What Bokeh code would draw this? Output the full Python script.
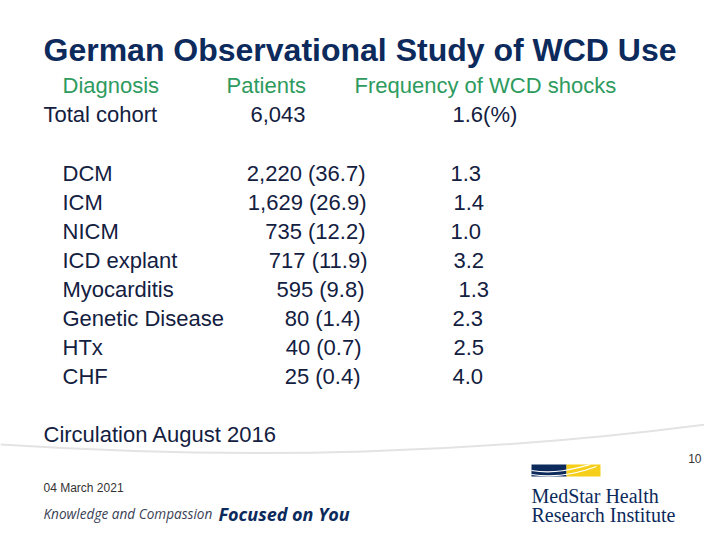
from bokeh.plotting import figure
from bokeh.models import Range1d, ColumnDataSource
from bokeh.core.properties import value
from bokeh.embed import file_html
from bokeh.resources import INLINE

# ---- data ----
title = "German Observational Study of WCD Use"
col_headers = ["Diagnosis", "Patients", "Frequency of WCD shocks"]
total_row = ["Total cohort", "6,043", "1.6(%)"]
diagnoses = ["DCM", "ICM", "NICM", "ICD explant", "Myocarditis",
             "Genetic Disease", "HTx", "CHF"]
patients = [2220, 1629, 735, 717, 595, 80, 40, 25]
patient_pct = [36.7, 26.9, 12.2, 11.9, 9.8, 1.4, 0.7, 0.4]
shock_freq = [1.3, 1.4, 1.0, 3.2, 1.3, 2.3, 2.5, 4.0]
source_note = "Circulation August 2016"
slide_no = "10"
date_str = "04 March 2021"

# ---- layout (reference pixel coordinates) ----
row_y0, row_dy = 180.5, 29
label_x = 62
pat_right = [365, 366, 365, 367, 364, 360, 361, 360]
freq_left = [450, 453, 450, 453, 458, 452, 453, 452]

NAVY = "#0c2a5c"
BODY = "#13203f"
GREEN = "#2e9b5e"
FONT = value("Liberation Sans")

p = figure(width=704, height=524, output_backend="svg", toolbar_location=None,
           x_range=Range1d(0, 704), y_range=Range1d(532, 8),
           min_border=0, outline_line_color=None)
p.axis.visible = False
p.grid.visible = False
p.background_fill_color = "white"
p.border_fill_color = "white"


def txt(x, y, s, size, color, align="left", style="normal", font=FONT):
    p.text(x=[x], y=[y], text=[s], text_font=font, text_font_size=f"{size}px",
           text_color=color, text_align=align, text_baseline="alphabetic",
           text_font_style=style)


# title
txt(43, 57, title, 32, NAVY, style="bold")

# header rows
txt(62, 93, col_headers[0], 22, GREEN)
txt(226, 93, col_headers[1], 22, GREEN)
txt(354, 93, col_headers[2], 22, GREEN)
txt(43, 122, total_row[0], 22, BODY)
txt(305, 122, total_row[1], 22, BODY, align="right")
txt(452, 122, total_row[2], 22, BODY)

# body rows
ys = [row_y0 + i * row_dy for i in range(len(diagnoses))]
pat_labels = [f"{n:,} ({pc})" for n, pc in zip(patients, patient_pct)]
freq_labels = [f"{f:.1f}" for f in shock_freq]
src = ColumnDataSource(dict(y=ys, lab=diagnoses, pat=pat_labels, freq=freq_labels,
                            lx=[label_x] * len(ys), px=pat_right, fx=freq_left))
p.text(x="lx", y="y", text="lab", source=src, text_font=FONT, text_font_size="22px",
       text_color=BODY, text_baseline="alphabetic")
p.text(x="px", y="y", text="pat", source=src, text_font=FONT, text_font_size="22px",
       text_color=BODY, text_baseline="alphabetic", text_align="right")
p.text(x="fx", y="y", text="freq", source=src, text_font=FONT, text_font_size="22px",
       text_color=BODY, text_baseline="alphabetic")

txt(43, 442, source_note, 22, BODY)

# divider swoosh
p.bezier(x0=[0], y0=[452], x1=[720], y1=[430], cx0=[250], cy0=[468],
         cx1=[480], cy1=[462], line_color="#e3e3e3", line_width=2)

# footer
txt(701, 466, slide_no, 12, "#333333", align="right")
txt(43, 495, date_str, 12, "#333333")
txt(43, 521, "Knowledge and Compassion", 13.6, "#3a3f55", style="italic",
    font=value("Open Sans"))
txt(218, 521, "Focused on You", 18, NAVY, style="bold italic", font=value("Open Sans"))

# logo
p.quad(left=[531], right=[566], top=[472], bottom=[484], fill_color="#0c2a5c",
       line_color=None)
p.quad(left=[566], right=[600], top=[472], bottom=[484], fill_color="#f5cf1a",
       line_color=None)
p.bezier(x0=[531, 531], y0=[478, 482], x1=[590, 596], y1=[472, 474],
         cx0=[555, 555], cy0=[482, 486], cx1=[575, 580], cy1=[476, 480],
         line_color="white", line_width=1.2)
txt(531, 503, "MedStar Health", 20, NAVY, font=value("Liberation Serif"))
txt(531, 522, "Research Institute", 20, NAVY, font=value("Liberation Serif"))

open("out.html", "w").write(file_html(p, INLINE))
